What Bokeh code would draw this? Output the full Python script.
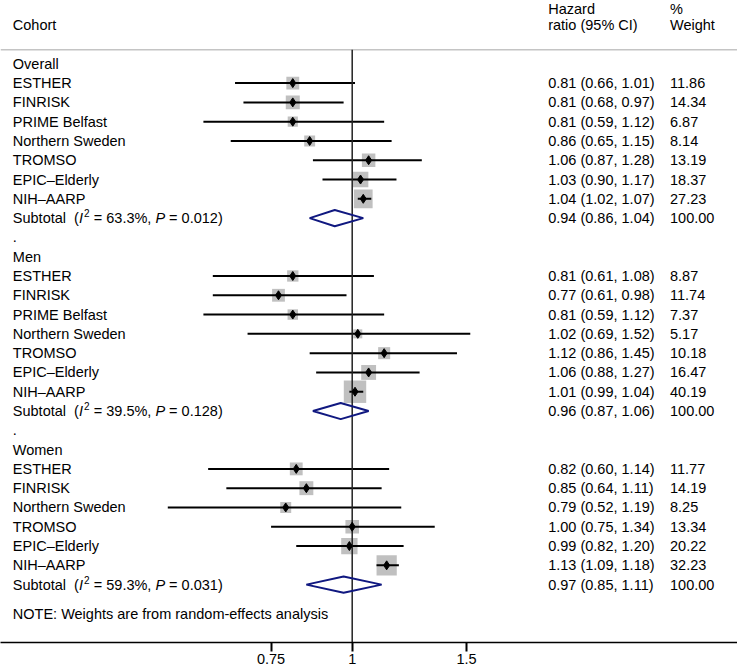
import math
from bokeh.plotting import figure
from bokeh.models import ColumnDataSource, Range1d, FixedTicker, LinearScale
from bokeh.embed import file_html
from bokeh.resources import INLINE
from bokeh.core.properties import value

# ---------------- data ----------------
groups = ["Overall", "Men", "Women"]

overall_cohorts = ["ESTHER", "FINRISK", "PRIME Belfast", "Northern Sweden", "TROMSO", "EPIC–Elderly", "NIH–AARP"]
overall_hr = [0.81, 0.81, 0.81, 0.86, 1.06, 1.03, 1.04]
overall_lo = [0.66, 0.68, 0.59, 0.65, 0.87, 0.90, 1.02]
overall_hi = [1.01, 0.97, 1.12, 1.15, 1.28, 1.17, 1.07]
overall_wt = [11.86, 14.34, 6.87, 8.14, 13.19, 18.37, 27.23]

men_cohorts = ["ESTHER", "FINRISK", "PRIME Belfast", "Northern Sweden", "TROMSO", "EPIC–Elderly", "NIH–AARP"]
men_hr = [0.81, 0.77, 0.81, 1.02, 1.12, 1.06, 1.01]
men_lo = [0.61, 0.61, 0.59, 0.69, 0.86, 0.88, 0.99]
men_hi = [1.08, 0.98, 1.12, 1.52, 1.45, 1.27, 1.04]
men_wt = [8.87, 11.74, 7.37, 5.17, 10.18, 16.47, 40.19]

women_cohorts = ["ESTHER", "FINRISK", "Northern Sweden", "TROMSO", "EPIC–Elderly", "NIH–AARP"]
women_hr = [0.82, 0.85, 0.79, 1.00, 0.99, 1.13]
women_lo = [0.60, 0.64, 0.52, 0.75, 0.82, 1.09]
women_hi = [1.14, 1.11, 1.19, 1.34, 1.20, 1.18]
women_wt = [11.77, 14.19, 8.25, 13.34, 20.22, 32.23]

sub_hr = [0.94, 0.96, 0.97]
sub_lo = [0.86, 0.87, 0.85]
sub_hi = [1.04, 1.06, 1.11]
sub_i2 = ["63.3", "39.5", "59.3"]
sub_p = ["0.012", "0.128", "0.031"]
sub_wt = [100.00, 100.00, 100.00]

tick_values = [0.75, 1, 1.5]
tick_labels = ["0.75", "1", "1.5"]
null_value = 1

note_text = "NOTE: Weights are from random-effects analysis"

# ---------------- row layout ----------------
group_data = [
    (overall_cohorts, overall_hr, overall_lo, overall_hi, overall_wt),
    (men_cohorts, men_hr, men_lo, men_hi, men_wt),
    (women_cohorts, women_hr, women_lo, women_hi, women_wt),
]
st = dict(name=[], hr=[], lo=[], hi=[], wt=[], row=[])
head_rows, sub_rows, dot_rows = [], [], []
k = 0
for gi, (names, hr, lo, hi, wt) in enumerate(group_data):
    head_rows.append(k)
    k += 1
    for n, h, l, u, w in zip(names, hr, lo, hi, wt):
        st["name"].append(n); st["hr"].append(h); st["lo"].append(l)
        st["hi"].append(u); st["wt"].append(w); st["row"].append(k)
        k += 1
    sub_rows.append(k)
    k += 1
    if gi < len(group_data) - 1:
        dot_rows.append(k)
        k += 1
note_row = k + 0.5
st["box"] = [3.3 * math.sqrt(w) + 1.5 for w in st["wt"]]
st["hrtxt"] = [f"{h:.2f} ({l:.2f}, {u:.2f})" for h, l, u in zip(st["hr"], st["lo"], st["hi"])]
st["wttxt"] = [f"{w:.2f}" for w in st["wt"]]

sub = dict(row=sub_rows, hr=sub_hr, lo=sub_lo, hi=sub_hi,
           i2=[f"= {v}%," for v in sub_i2], pv=[f"= {v})" for v in sub_p],
           hrtxt=[f"{h:.2f} ({l:.2f}, {u:.2f})" for h, l, u in zip(sub_hr, sub_lo, sub_hi)],
           wttxt=[f"{w:.2f}" for w in sub_wt])
sub["xs"] = [[l, h, u, h] for l, h, u in zip(sub_lo, sub_hr, sub_hi)]
sub["ys"] = [[r, r - 0.42, r, r + 0.42] for r in sub_rows]

# ---------------- figure ----------------
W, H = 737, 666
X1_PX = 351.7      # pixel of HR=1 inside the frame
PX_PER_LN = 282.0
ROW0_PX, ROW_PX = 63.0, 19.2
TOP_ROW, BOT_ROW = -ROW0_PX / ROW_PX, 30.0
LINE_ROW = -0.73
LX, HX, WX = 12.3, 547.7, 669.5
FS = "14.5px"
EM = 14.5 / 1000.0   # Arial/Liberation advance widths per font unit

st["lx"] = [LX] * len(st["row"])
st["hx"] = [HX] * len(st["row"])
st["wx"] = [WX] * len(st["row"])
src = ColumnDataSource(st)
ssrc = ColumnDataSource(sub)

p = figure(width=W, height=H, x_axis_type="log",
           x_range=Range1d(math.exp(-X1_PX / PX_PER_LN), math.exp((W - X1_PX) / PX_PER_LN)),
           y_range=Range1d(BOT_ROW, TOP_ROW),
           output_backend="svg", toolbar_location=None, y_axis_location=None,
           min_border_left=0, min_border_right=0, min_border_top=0, min_border_bottom=0)
p.extra_x_ranges = {"px": Range1d(0, W)}
p.extra_x_scales = {"px": LinearScale()}
p.xgrid.visible = False
p.ygrid.visible = False
p.outline_line_color = None
p.background_fill_color = "white"

ax = p.xaxis[0]
ax.ticker = FixedTicker(ticks=tick_values)
ax.major_label_overrides = {t: s for t, s in zip(tick_values, tick_labels)}
ax.axis_line_width = 1.5
ax.axis_line_color = "black"
ax.major_tick_line_width = 2
ax.major_tick_line_color = "black"
ax.major_tick_out = 9
ax.major_tick_in = 0
ax.minor_tick_out = 0
ax.minor_tick_in = 0
ax.major_label_standoff = 2
ax.major_label_text_font = "Liberation Sans"
ax.major_label_text_font_size = FS
ax.major_label_text_color = "black"

# separator line under header
p.segment(x0=[0], x1=[W], y0=[LINE_ROW], y1=[LINE_ROW], x_range_name="px",
          line_color="#c4c4c4", line_width=1.5)

# weight boxes
p.scatter(x="hr", y="row", size="box", marker="square", source=src,
          fill_color="#c0c0c0", line_color=None)
# CI lines
p.segment(x0="lo", x1="hi", y0="row", y1="row", source=src, line_color="black", line_width=2)
# null line
p.segment(x0=[null_value], x1=[null_value], y0=[LINE_ROW], y1=[BOT_ROW], line_color="#222222", line_width=1.5)
# point estimates
p.scatter(x="hr", y="row", marker="diamond", size=9, source=src, color="black")
# subtotal diamonds
p.patches(xs="xs", ys="ys", source=ssrc, fill_color=None, line_color="#101880", line_width=2)

FONT = value("Liberation Sans")
def txt(x, y, t, size=FS, style="normal", yoff=0, source=None):
    kw = dict(text_font=FONT, text_font_size=size, text_font_style=style,
              text_baseline="middle", text_align="left", text_color="black",
              x_range_name="px", y_offset=yoff)
    if source is None:
        p.text(x=[x] * len(y), y=y, text=t, **kw)
    else:
        p.text(x=x, y=y, text=t, source=source, **kw)

# header
txt(LX, [-2], ["Cohort"])
txt(HX, [-2.86], ["Hazard"])
txt(HX, [-2], ["ratio (95% CI)"])
txt(WX, [-2.86], ["%"])
txt(WX, [-2], ["Weight"])

# group headings and dots
txt(LX, head_rows, groups)
txt(LX, dot_rows, ["."] * len(dot_rows))

# study rows
txt("lx", "row", "name", source=src)
txt("hx", "row", "hrtxt", source=src)
txt("wx", "row", "wttxt", source=src)

# subtotal rows: "Subtotal  (I² = xx.x%, P = 0.xxx)" composed of pieces
n = len(sub_rows)
x_paren = LX + (3669 + 2 * 278) * EM
x_I = x_paren + 333 * EM
x_sup = x_I + 278 * EM + 1.2
x_eq1 = x_sup + 5.6 + 278 * EM
x_P = x_eq1 + 3975 * EM + 278 * EM
x_eq2 = x_P + 667 * EM + 278 * EM
txt(LX, sub_rows, ["Subtotal"] * n)
txt(x_paren, sub_rows, ["("] * n)
txt(x_I, sub_rows, ["I"] * n, style="italic")
txt(x_sup, sub_rows, ["2"] * n, size="10px", yoff=-5)
txt(x_eq1, sub_rows, sub["i2"])
txt(x_P, sub_rows, ["P"] * n, style="italic")
txt(x_eq2, sub_rows, sub["pv"])
txt(HX, sub_rows, sub["hrtxt"])
txt(WX, sub_rows, sub["wttxt"])

# note
txt(LX, [note_row], [note_text])

open("out.html", "w").write(file_html(p, INLINE))
